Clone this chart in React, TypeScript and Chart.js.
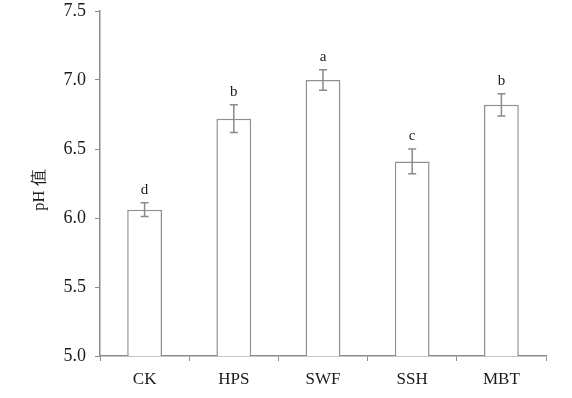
import React, { useEffect, useRef } from "react";
import { Chart, registerables } from "chart.js";

Chart.register(...registerables);

const categories = ["CK", "HPS", "SWF", "SSH", "MBT"];
const phValues = [6.06, 6.72, 7.0, 6.41, 6.82];
const phErrors = [0.05, 0.1, 0.075, 0.09, 0.08];
const sigLetters = ["d", "b", "a", "c", "b"];
const yTickValues = [5.0, 5.5, 6.0, 6.5, 7.0, 7.5];

const AXIS = "#8c8c8c";
const TEXT = "#1a1a1a";
const FONT = "'Liberation Serif', 'Times New Roman', serif";

const overlay = {
  id: "overlay",
  afterDatasetsDraw(chart: any) {
    const ctx = chart.ctx;
    const ys = chart.scales.y;
    const meta = chart.getDatasetMeta(0);
    ctx.save();
    ctx.strokeStyle = "#8a8a8a";
    ctx.lineWidth = 1.5;
    phValues.forEach((v, i) => {
      const x = meta.data[i].x;
      const yTop = ys.getPixelForValue(v + phErrors[i]);
      const yBot = ys.getPixelForValue(v - phErrors[i]);
      ctx.beginPath();
      ctx.moveTo(x, yTop);
      ctx.lineTo(x, yBot);
      ctx.moveTo(x - 4, yTop);
      ctx.lineTo(x + 4, yTop);
      ctx.moveTo(x - 4, yBot);
      ctx.lineTo(x + 4, yBot);
      ctx.stroke();
      ctx.fillStyle = TEXT;
      ctx.font = `15px ${FONT}`;
      ctx.textAlign = "center";
      ctx.textBaseline = "bottom";
      ctx.fillText(sigLetters[i], x, yTop - 5);
    });
    ctx.translate(40, 190);
    ctx.rotate(-Math.PI / 2);
    ctx.fillStyle = TEXT;
    ctx.font = `16.5px ${FONT}`;
    ctx.textAlign = "center";
    ctx.textBaseline = "middle";
    ctx.fillText("pH 值", 0, 0);
    ctx.restore();
  },
};

export default function App() {
  const ref = useRef<HTMLCanvasElement>(null);
  useEffect(() => {
    const chart = new Chart(ref.current!, {
      type: "bar",
      data: {
        labels: categories,
        datasets: [
          {
            data: phValues,
            backgroundColor: "#ffffff",
            borderColor: "#8f8f8f",
            borderWidth: 1.5,
            barPercentage: 0.78,
            categoryPercentage: 0.5,
          },
        ],
      },
      options: {
        animation: false,
        responsive: false,
        devicePixelRatio: 1,
        layout: { padding: { left: 0, right: 26, top: 11, bottom: 0 } },
        plugins: { legend: { display: false }, tooltip: { enabled: false } },
        scales: {
          x: {
            offset: true,
            afterFit: (s: any) => {
              s.height = 42;
              s.paddingLeft = 0;
              s.paddingRight = 0;
            },
            grid: {
              offset: true,
              drawOnChartArea: false,
              drawTicks: true,
              tickLength: 5,
              color: AXIS,
              lineWidth: 1,
            },
            border: { color: AXIS, width: 1.5 },
            ticks: {
              color: TEXT,
              font: { family: FONT, size: 17 },
              padding: 8,
            },
          },
          y: {
            min: 5,
            max: 7.5,
            afterFit: (s: any) => {
              s.width = 100;
              s.paddingTop = 0;
              s.paddingBottom = 0;
            },
            afterBuildTicks: (s: any) => {
              s.ticks = yTickValues.map((v) => ({ value: v }));
            },
            grid: {
              drawOnChartArea: false,
              drawTicks: true,
              tickLength: 5,
              color: AXIS,
            },
            border: { color: AXIS, width: 1.5 },
            ticks: {
              color: TEXT,
              font: { family: FONT, size: 18 },
              padding: 9,
              callback: (v: any) => Number(v).toFixed(1),
            },
          },
        },
      },
      plugins: [overlay],
    });
    return () => chart.destroy();
  }, []);
  return (
    <div style={{ position: "absolute", left: 0, top: 0, width: 572, height: 398, background: "#fff" }}>
      <canvas ref={ref} width={572} height={398} style={{ width: 572, height: 398 }} />
    </div>
  );
}
